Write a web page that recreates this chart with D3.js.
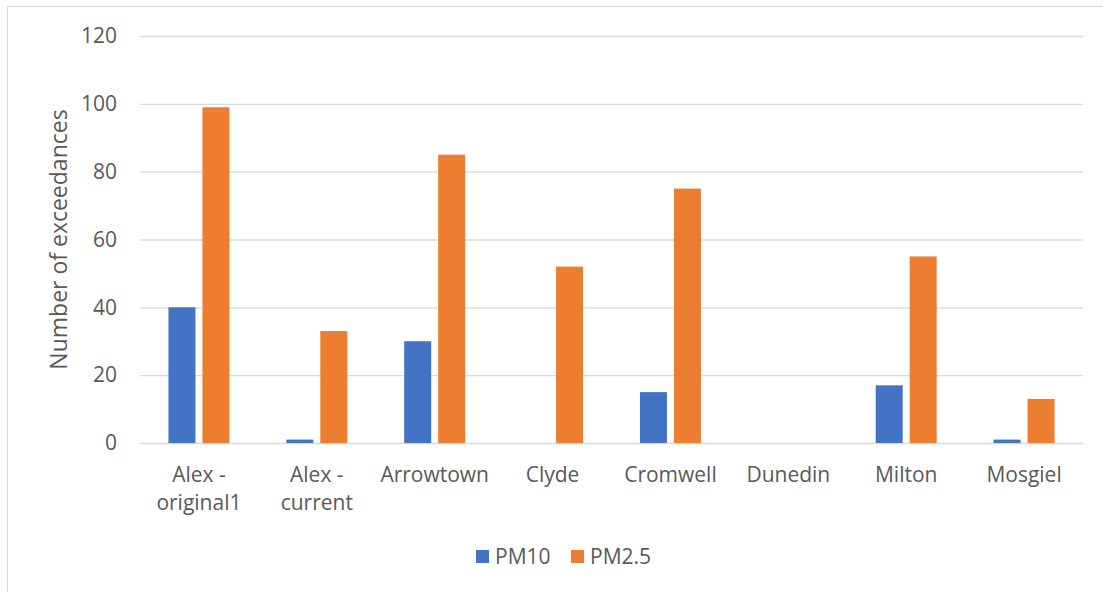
<!DOCTYPE html>
<html>
<head>
<meta charset="utf-8">
<script src="https://cdn.jsdelivr.net/npm/d3@7"></script>
<style>
 body { margin: 0; background: #fff; }
 svg { display: block; font-family: "Open Sans", Lato, sans-serif; }
</style>
</head>
<body>
<svg id="chart"></svg>
<script>
 // data
 let categories = ["Alex - original1", "Alex - current", "Arrowtown", "Clyde", "Cromwell", "Dunedin", "Milton", "Mosgiel"]
 let labelLines = [["Alex -", "original1"], ["Alex -", "current"], ["Arrowtown"], ["Clyde"], ["Cromwell"], ["Dunedin"], ["Milton"], ["Mosgiel"]]
 let seriesNames = ["PM10", "PM2.5"]
 let pm10 = [40, 1, 30, 0, 15, 0, 17, 1]
 let pm25 = [99, 33, 85, 52, 75, 0, 55, 13]
 let yTicks = [0, 20, 40, 60, 80, 100, 120]
 let colors = ["#4472c4", "#ed7d31"]

 width = 1103
 height = 592
 let margin = {left: 140, right: 20, top: 36, bottom: 149}
 let fs = "21px"

 var svg = d3.select("#chart").attr("width", width).attr("height", height)

 // chart border
 svg.append("rect")
      .attr("x", 7.5).attr("y", 6.5)
      .attr("width", width + 10).attr("height", height + 10)
      .attr("fill", "none").attr("stroke", "#d9d9d9")

 var x = d3.scaleBand().domain(categories).range([margin.left, width - margin.right]).paddingInner(0).paddingOuter(0)
 var y = d3.scaleLinear().domain([0, 120]).range([height - margin.bottom, margin.top])

 // gridlines + tick labels
 var yAxis = d3.axisLeft(y).tickValues(yTicks).tickSize(-(width - margin.left - margin.right)).tickPadding(23)
 var gy = svg.append("g").attr("transform", "translate(" + margin.left + ",0)").call(yAxis)
 gy.select(".domain").remove()
 gy.selectAll(".tick line").attr("stroke", "#d9d9d9").attr("stroke-width", 1.3)
 gy.selectAll(".tick text").attr("fill", "#595959").style("font-size", fs).style("font-family", "'Open Sans'")

 // bars
 let barW = 27, gap = 7
 let series = [pm10, pm25]
 series.forEach(function(vals, s){
      svg.append("g")
           .selectAll("rect")
           .data(categories)
           .enter().append("rect")
                .attr("x", function(d){ return x(d) + x.bandwidth()/2 - gap/2 - barW + s*(barW + gap) })
                .attr("y", function(d, i){ return y(vals[i]) })
                .attr("width", barW)
                .attr("height", function(d, i){ return y(0) - y(vals[i]) })
                .attr("fill", colors[s])
 })

 // category labels
 var lab = svg.append("g").selectAll("text")
      .data(categories)
      .enter().append("text")
           .attr("text-anchor", "middle")
           .attr("fill", "#595959")
           .style("font-size", fs)
 lab.each(function(d, i){
      var t = d3.select(this)
      labelLines[i].forEach(function(line, j){
           t.append("tspan").attr("x", x(d) + x.bandwidth()/2).attr("y", 482 + j*28).text(line)
      })
 })

 // y axis title
 svg.append("text")
      .attr("transform", "translate(67," + ((y(0) + y(120))/2) + ") rotate(-90)")
      .attr("text-anchor", "middle")
      .attr("fill", "#595959")
      .style("font-size", "23px")
      .text("Number of exceedances")

 // legend
 let legX = [476, 571]
 seriesNames.forEach(function(n, s){
      var g = svg.append("g").attr("transform", "translate(" + legX[s] + ",550)")
      g.append("rect").attr("width", 13).attr("height", 13).attr("fill", colors[s])
      g.append("text").attr("x", 19).attr("y", 14).attr("fill", "#595959").style("font-size", fs).text(n)
 })
</script>
</body>
</html>
